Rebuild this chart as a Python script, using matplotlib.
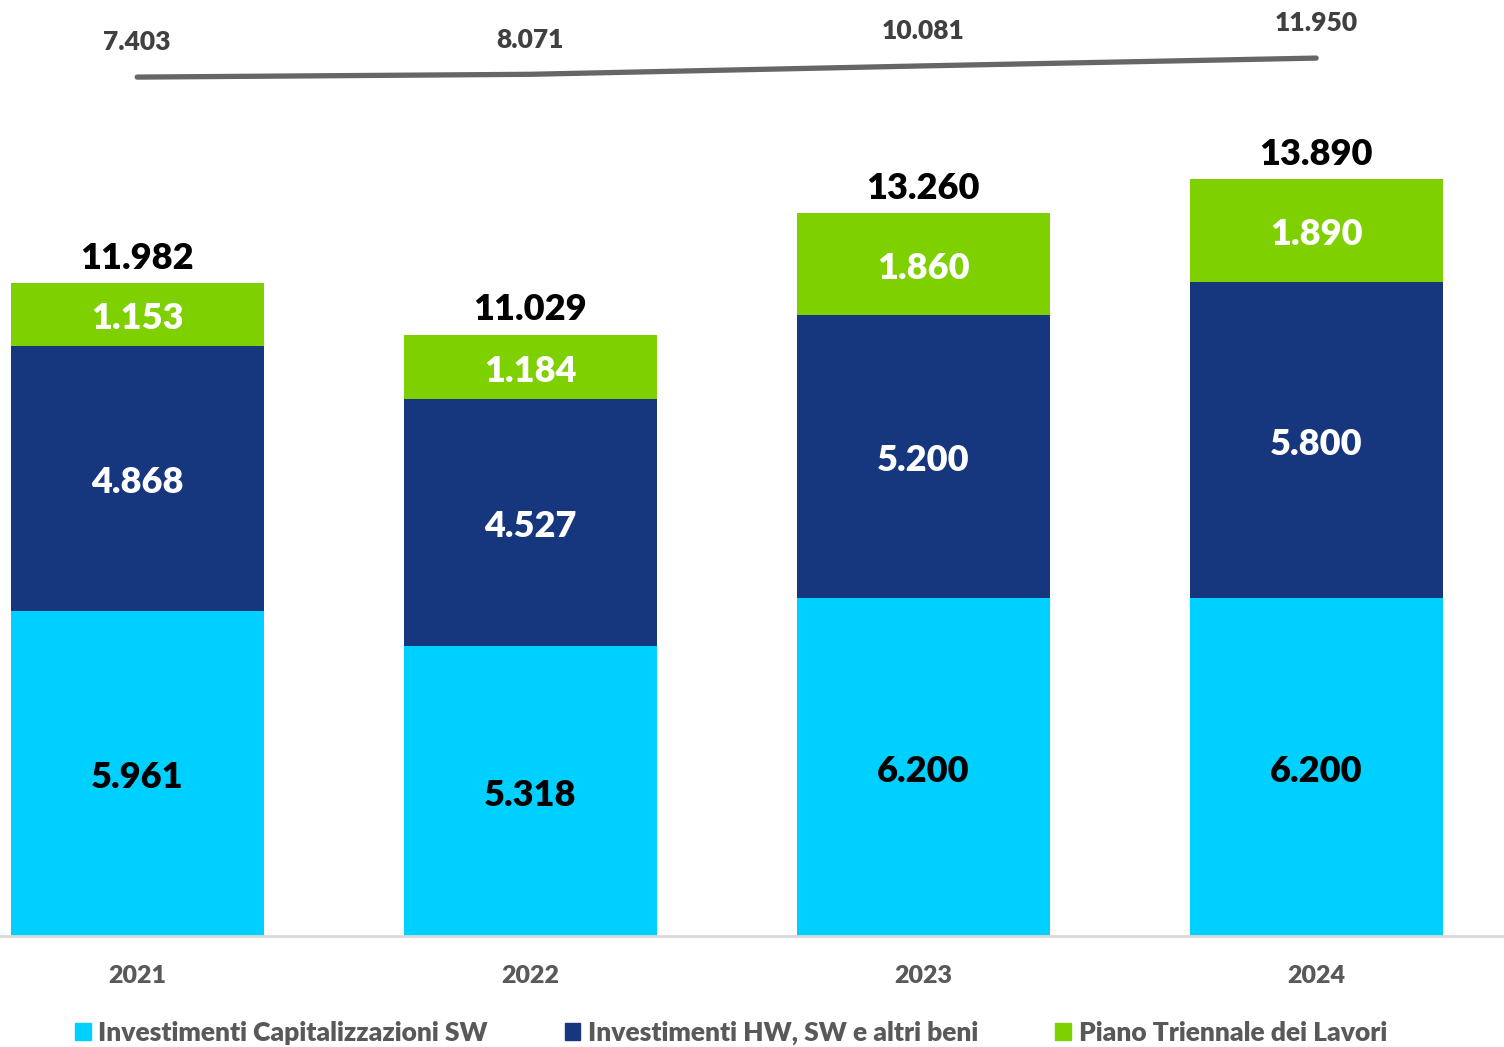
import matplotlib
matplotlib.use("Agg")
import matplotlib.pyplot as plt
import matplotlib.patches as mpatches

plt.rcParams['font.family'] = ['Lato', 'DejaVu Sans']
plt.rcParams['font.weight'] = 800

years = ['2021', '2022', '2023', '2024']
cap_sw = [5961, 5318, 6200, 6200]
hw_sw = [4868, 4527, 5200, 5800]
piano = [1153, 1184, 1860, 1890]
totals = [11982, 11029, 13260, 13890]
line_vals = [7403, 8071, 10081, 11950]

names = ['Investimenti Capitalizzazioni SW', 'Investimenti HW, SW e altri beni',
         'Piano Triennale dei Lavori']
c_cyan = '#00D0FF'
c_navy = '#16367E'
c_green = '#7ED000'


def fmt(v):
    return f"{v:,}".replace(',', '.')


fig = plt.figure(figsize=(15.04, 10.47), dpi=100)
ax = fig.add_axes([0, 1 - 936 / 1047, 1, 936 / 1047])

x = list(range(len(years)))
w = 0.644
ax.bar(x, cap_sw, w, color=c_cyan)
ax.bar(x, hw_sw, w, bottom=cap_sw, color=c_navy)
bot3 = [a + b for a, b in zip(cap_sw, hw_sw)]
ax.bar(x, piano, w, bottom=bot3, color=c_green)

fs = 26
lab = dict(textcoords='offset points', xytext=(0, -3), ha='center', va='center', fontsize=fs)
for i in x:
    ax.annotate(fmt(cap_sw[i]), (i, cap_sw[i] / 2), color='black', **lab)
    ax.annotate(fmt(hw_sw[i]), (i, cap_sw[i] + hw_sw[i] / 2), color='white', **lab)
    ax.annotate(fmt(piano[i]), (i, bot3[i] + piano[i] / 2), color='white', **lab)
    ax.annotate(fmt(totals[i]), (i, totals[i]), xytext=(0, 18), textcoords='offset points',
                ha='center', va='center', fontsize=fs, color='black')

ax.set_xlim(-0.349, 3.478)
ax.set_ylim(0, 17175)
ax.set_xticks(x)
ax.set_xticklabels(years, fontsize=18, color='#595959')
ax.tick_params(axis='x', length=0, pad=21)
ax.set_yticks([])
for s in ['top', 'left', 'right']:
    ax.spines[s].set_visible(False)
ax.spines['bottom'].set_color('#D9D9D9')
ax.spines['bottom'].set_linewidth(2)

# line on a secondary axis
ax2 = ax.twinx()
ax2.plot(x, line_vals, color='#666666', lw=3.8, solid_capstyle='round')
ax2.set_ylim(-198000, 25840)
ax2.set_yticks([])
for s in ax2.spines.values():
    s.set_visible(False)
for i in x:
    ax2.annotate(fmt(line_vals[i]), (i, line_vals[i]), xytext=(0, 25),
                 textcoords='offset points', ha='center', va='center',
                 fontsize=19, color='#404040')

handles = [mpatches.Patch(color=c, label=n) for c, n in zip([c_cyan, c_navy, c_green], names)]
fig.legend(handles=handles, loc='center', bbox_to_anchor=(0.486, 1 - 1033 / 1047), ncol=3,
           frameon=False, fontsize=19, labelcolor='#595959', handlelength=0.6, handleheight=0.6,
           handletextpad=0.3, columnspacing=2.9, borderaxespad=0)

fig.savefig('out.png', dpi=100)
